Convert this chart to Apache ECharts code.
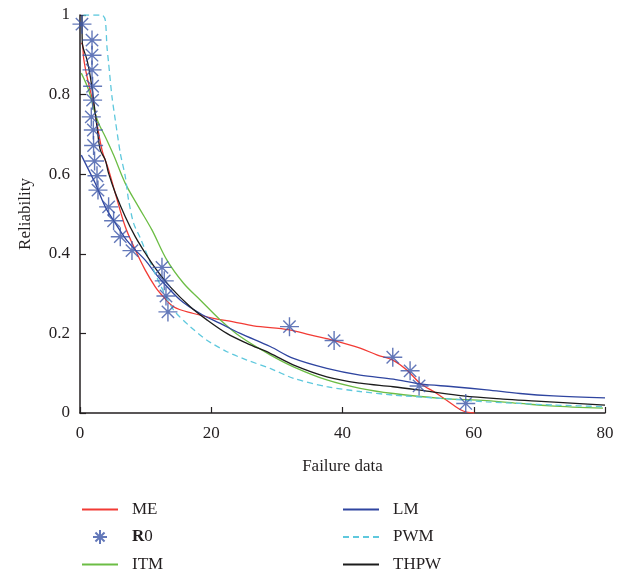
<!DOCTYPE html>
<html>
<head>
<meta charset="utf-8">
<script src="https://cdn.jsdelivr.net/npm/echarts@6/dist/echarts.min.js"></script>
<style>
  html, body { margin: 0; padding: 0; background: #ffffff; }
  #chart { width: 624px; height: 571px; }
</style>
</head>
<body>
<div id="chart"></div>
<script>
// Axis ticks
const xTicks = [0, 20, 40, 60, 80];
const yTicks = [0, 0.2, 0.4, 0.6, 0.8, 1];

// Empirical reliability R0 (failure time, reliability)
const R0 = [
  [0.3, 0.977], [1.83, 0.937], [1.83, 0.899], [1.83, 0.862], [1.92, 0.821],
  [1.92, 0.786], [1.72, 0.744], [2.03, 0.711], [2.07, 0.672], [2.22, 0.633],
  [2.59, 0.596], [2.74, 0.560], [4.36, 0.518], [5.12, 0.483], [6.14, 0.443],
  [7.92, 0.408], [12.49, 0.366], [12.84, 0.332], [13.1, 0.294], [13.4, 0.254],
  [31.92, 0.217], [38.72, 0.182], [47.66, 0.140], [50.3, 0.106], [51.67, 0.068],
  [58.78, 0.024]
];

// Fitted reliability curves
const ME = [
  [0.2, 0.93], [0.4, 0.925], [0.55, 0.892], [1.07, 0.845], [2.07, 0.774],
  [3.35, 0.661], [4.36, 0.611], [5.38, 0.552], [6.9, 0.468], [8.42, 0.410],
  [9.94, 0.359], [11.47, 0.317], [12.23, 0.301], [14.25, 0.267], [17.3, 0.250],
  [20.34, 0.238], [23.39, 0.229], [26.43, 0.219], [31.92, 0.209], [35.07, 0.196],
  [38.72, 0.182], [42.68, 0.163], [45.23, 0.146], [47.66, 0.133], [49.8, 0.108],
  [51.82, 0.075], [54.36, 0.049], [56.89, 0.020], [58.4, 0.005], [60.1, 0.0]
];

const ITM = [
  [0.2, 0.854], [1.31, 0.812], [2.07, 0.766], [2.83, 0.728], [3.85, 0.694],
  [5.12, 0.648], [6.9, 0.577], [8.92, 0.518], [10.96, 0.460], [13.25, 0.384],
  [15.78, 0.326], [18.32, 0.284], [21.37, 0.234], [24.41, 0.192], [28.98, 0.146],
  [32.53, 0.116], [37.61, 0.083], [42.68, 0.062], [47.75, 0.049], [54.86, 0.037],
  [61.98, 0.031], [67.05, 0.024], [71.62, 0.018], [79.7, 0.012]
];

const LM = [
  [0.2, 0.648], [1.07, 0.619], [1.83, 0.594], [2.33, 0.577], [3.85, 0.518],
  [5.38, 0.477], [6.9, 0.439], [8.42, 0.410], [9.94, 0.384], [11.47, 0.351],
  [12.23, 0.336], [15.27, 0.284], [18.32, 0.250], [21.37, 0.225], [24.41, 0.200],
  [28.98, 0.167], [32.53, 0.137], [37.61, 0.112], [42.68, 0.095], [47.75, 0.085],
  [51.82, 0.073], [56.89, 0.066], [61.98, 0.058], [67.05, 0.049], [72.12, 0.043],
  [80, 0.038]
];

const PWM = [
  [0.5, 1.0], [3.35, 1.0], [3.85, 0.987], [4.11, 0.920], [4.36, 0.879],
  [4.87, 0.795], [5.38, 0.736], [6.14, 0.653], [6.9, 0.594], [7.4, 0.535],
  [8.16, 0.477], [9.18, 0.440], [10.7, 0.379], [12.23, 0.322], [14.25, 0.259],
  [16.8, 0.217], [19.34, 0.183], [22.38, 0.154], [25.43, 0.133], [28.98, 0.112],
  [32.53, 0.087], [37.61, 0.066], [42.68, 0.054], [47.75, 0.045], [54.86, 0.037],
  [61.98, 0.028], [67.05, 0.024], [72.12, 0.020], [80, 0.016]
];

const THPW = [
  [0.3, 1.0], [0.35, 0.930], [1.07, 0.887], [1.57, 0.845], [2.07, 0.786],
  [2.59, 0.719], [3.09, 0.661], [3.85, 0.636], [4.36, 0.602], [5.38, 0.553],
  [6.9, 0.493], [8.42, 0.443], [9.94, 0.402], [11.47, 0.364], [13.75, 0.317],
  [16.8, 0.267], [19.34, 0.234], [22.38, 0.200], [25.43, 0.175], [28.98, 0.150],
  [32.48, 0.121], [37.61, 0.091], [42.68, 0.075], [47.71, 0.066], [52.84, 0.055],
  [58.37, 0.043], [64.46, 0.035], [69.59, 0.030], [73.6, 0.026], [80, 0.020]
];

const FONT = '"Liberation Serif", "DejaVu Serif", serif';
const INK = '#231f20';
const STAR = 'path://M0,10 L20,10 M10,0 L10,20 M3.5,3.5 L16.5,16.5 M16.5,3.5 L3.5,16.5';

function curve(name, data, color, dashed, smooth) {
  return {
    name: name,
    type: 'line',
    data: data,
    symbol: 'none',
    smooth: smooth,
    silent: true,
    lineStyle: { color: color, width: 1.3, type: dashed ? [6, 4] : 'solid' },
    itemStyle: { color: color },
    z: 2
  };
}

// legend entry for a plain line: hide the marker drawn in the middle of the line icon
function lineItem(name) {
  return { name: name, itemStyle: { opacity: 0 } };
}

const chart = echarts.init(document.getElementById('chart'), null, { renderer: 'canvas' });

const legendText = {
  fontFamily: FONT,
  fontSize: 17,
  lineHeight: 17,
  color: INK,
  padding: [0, 0, 0, 9],
  rich: {
    b: { fontFamily: FONT, fontSize: 17, fontWeight: 'bold', color: INK },
    n: { fontFamily: FONT, fontSize: 17, color: INK }
  }
};
const legendFmt = function (name) { return name === 'R0' ? '{b|R}{n|0}' : name; };

chart.setOption({
  animation: false,
  backgroundColor: '#ffffff',
  grid: { left: 80, right: 19, top: 15, bottom: 158 },
  legend: [
    {
      data: [lineItem('ME'), 'R0', lineItem('ITM')],
      orient: 'vertical',
      left: 81, top: 501, height: 80, padding: 0,
      itemWidth: 36, itemHeight: 14, itemGap: 10.5,
      textStyle: legendText,
      formatter: legendFmt
    },
    {
      data: [lineItem('LM'), lineItem('PWM'), lineItem('THPW')],
      orient: 'vertical',
      left: 342, top: 501, height: 80, padding: 0,
      itemWidth: 36, itemHeight: 14, itemGap: 10.5,
      textStyle: legendText,
      formatter: legendFmt
    }
  ],
  xAxis: {
    type: 'value',
    min: xTicks[0], max: xTicks[xTicks.length - 1], interval: 20,
    name: 'Failure data',
    nameLocation: 'middle',
    nameGap: 45,
    nameTextStyle: { fontFamily: FONT, fontSize: 17, color: INK },
    axisLine: { lineStyle: { color: INK, width: 1.5 } },
    axisTick: { inside: true, length: 6, lineStyle: { color: INK, width: 1.2 } },
    axisLabel: { fontFamily: FONT, fontSize: 17, color: INK, margin: 12 },
    splitLine: { show: false }
  },
  yAxis: {
    type: 'value',
    min: yTicks[0], max: yTicks[yTicks.length - 1], interval: 0.2,
    name: 'Reliability',
    nameLocation: 'middle',
    nameGap: 46,
    nameTextStyle: { fontFamily: FONT, fontSize: 17, color: INK },
    axisLine: { lineStyle: { color: INK, width: 1.5 } },
    axisTick: { inside: true, length: 6, lineStyle: { color: INK, width: 1.2 } },
    axisLabel: { fontFamily: FONT, fontSize: 17, color: INK, margin: 10 },
    splitLine: { show: false }
  },
  series: [
    curve('ME', ME, '#f23b35', false, 0.35),
    {
      name: 'R0',
      type: 'scatter',
      data: R0,
      symbol: STAR,
      symbolSize: 19,
      symbolKeepAspect: true,
      itemStyle: { color: 'rgba(0,0,0,0)', borderColor: '#3c56a8', borderWidth: 1.4 },
      z: 5
    },
    curve('ITM', ITM, '#6cbd45', false, 0.35),
    curve('LM', LM, '#2f45a0', false, 0.35),
    curve('PWM', PWM, '#5ec8dd', true, 0.25),
    curve('THPW', THPW, '#1c1c1c', false, 0.35)
  ]
});
</script>
</body>
</html>
